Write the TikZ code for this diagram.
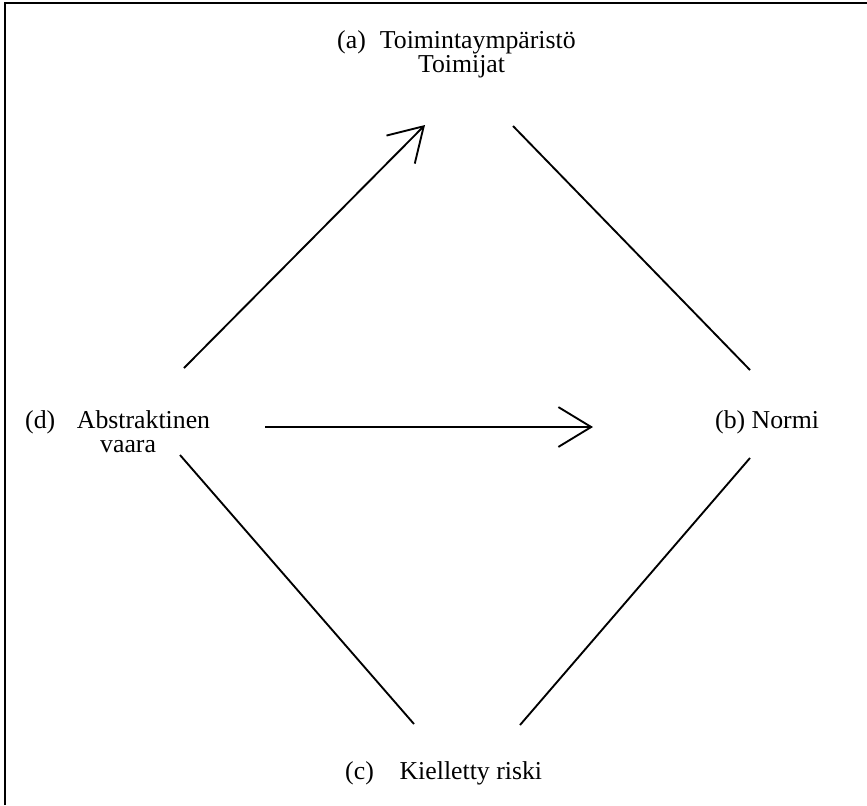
\documentclass[tikz,border=0pt]{standalone}
\usepackage{fontspec}
\setmainfont{Liberation Serif}
\usetikzlibrary{arrows.meta}

\tikzset{
  label text/.style={anchor=base west,inner sep=0pt,font=\fontsize{22}{20.5}\selectfont},
  edge line/.style={black,line width=1.6pt},
  barb/.style={-{Straight Barb[length=28pt,width=34pt,line width=1.6pt]}}
}

\begin{document}
\begin{tikzpicture}[x=0.03cm,y=-0.03cm]
\useasboundingbox (0,0) rectangle (867,805);
% frame
\draw[black,line width=2.4pt] (5,805) -- (5,3) -- (867,3);
% labels
\node[label text] (a) at (337,48) {\begin{tabular}[t]{@{}l@{}}(a)\hspace{12pt}Toimintaympäristö\\\hspace*{69pt}Toimijat\end{tabular}};
\node[label text] (d) at (25,428) {\begin{tabular}[t]{@{}l@{}}(d)\hspace{18.5pt}Abstraktinen\\\hspace*{64pt}vaara\end{tabular}};
\node[label text] (b) at (715,428) {(b) Normi};
\node[label text] (c) at (345,779) {(c)\hspace{22pt}Kielletty riski};
% line ends
\coordinate (d-up) at (184,368);
\coordinate (a-in) at (425,125);
\coordinate (a-out) at (513,126);
\coordinate (b-up) at (750,370);
\coordinate (b-down) at (750,458);
\coordinate (c-right) at (520,725);
\coordinate (d-down) at (180,455);
\coordinate (c-left) at (414,724);
\coordinate (d-right) at (265,427);
\coordinate (b-in) at (593,427);
% connectors
\draw[edge line,barb] (d-up) -- (a-in);
\draw[edge line] (a-out) -- (b-up);
\draw[edge line] (b-down) -- (c-right);
\draw[edge line] (d-down) -- (c-left);
\draw[edge line,barb] (d-right) -- (b-in);
\end{tikzpicture}
\end{document}
